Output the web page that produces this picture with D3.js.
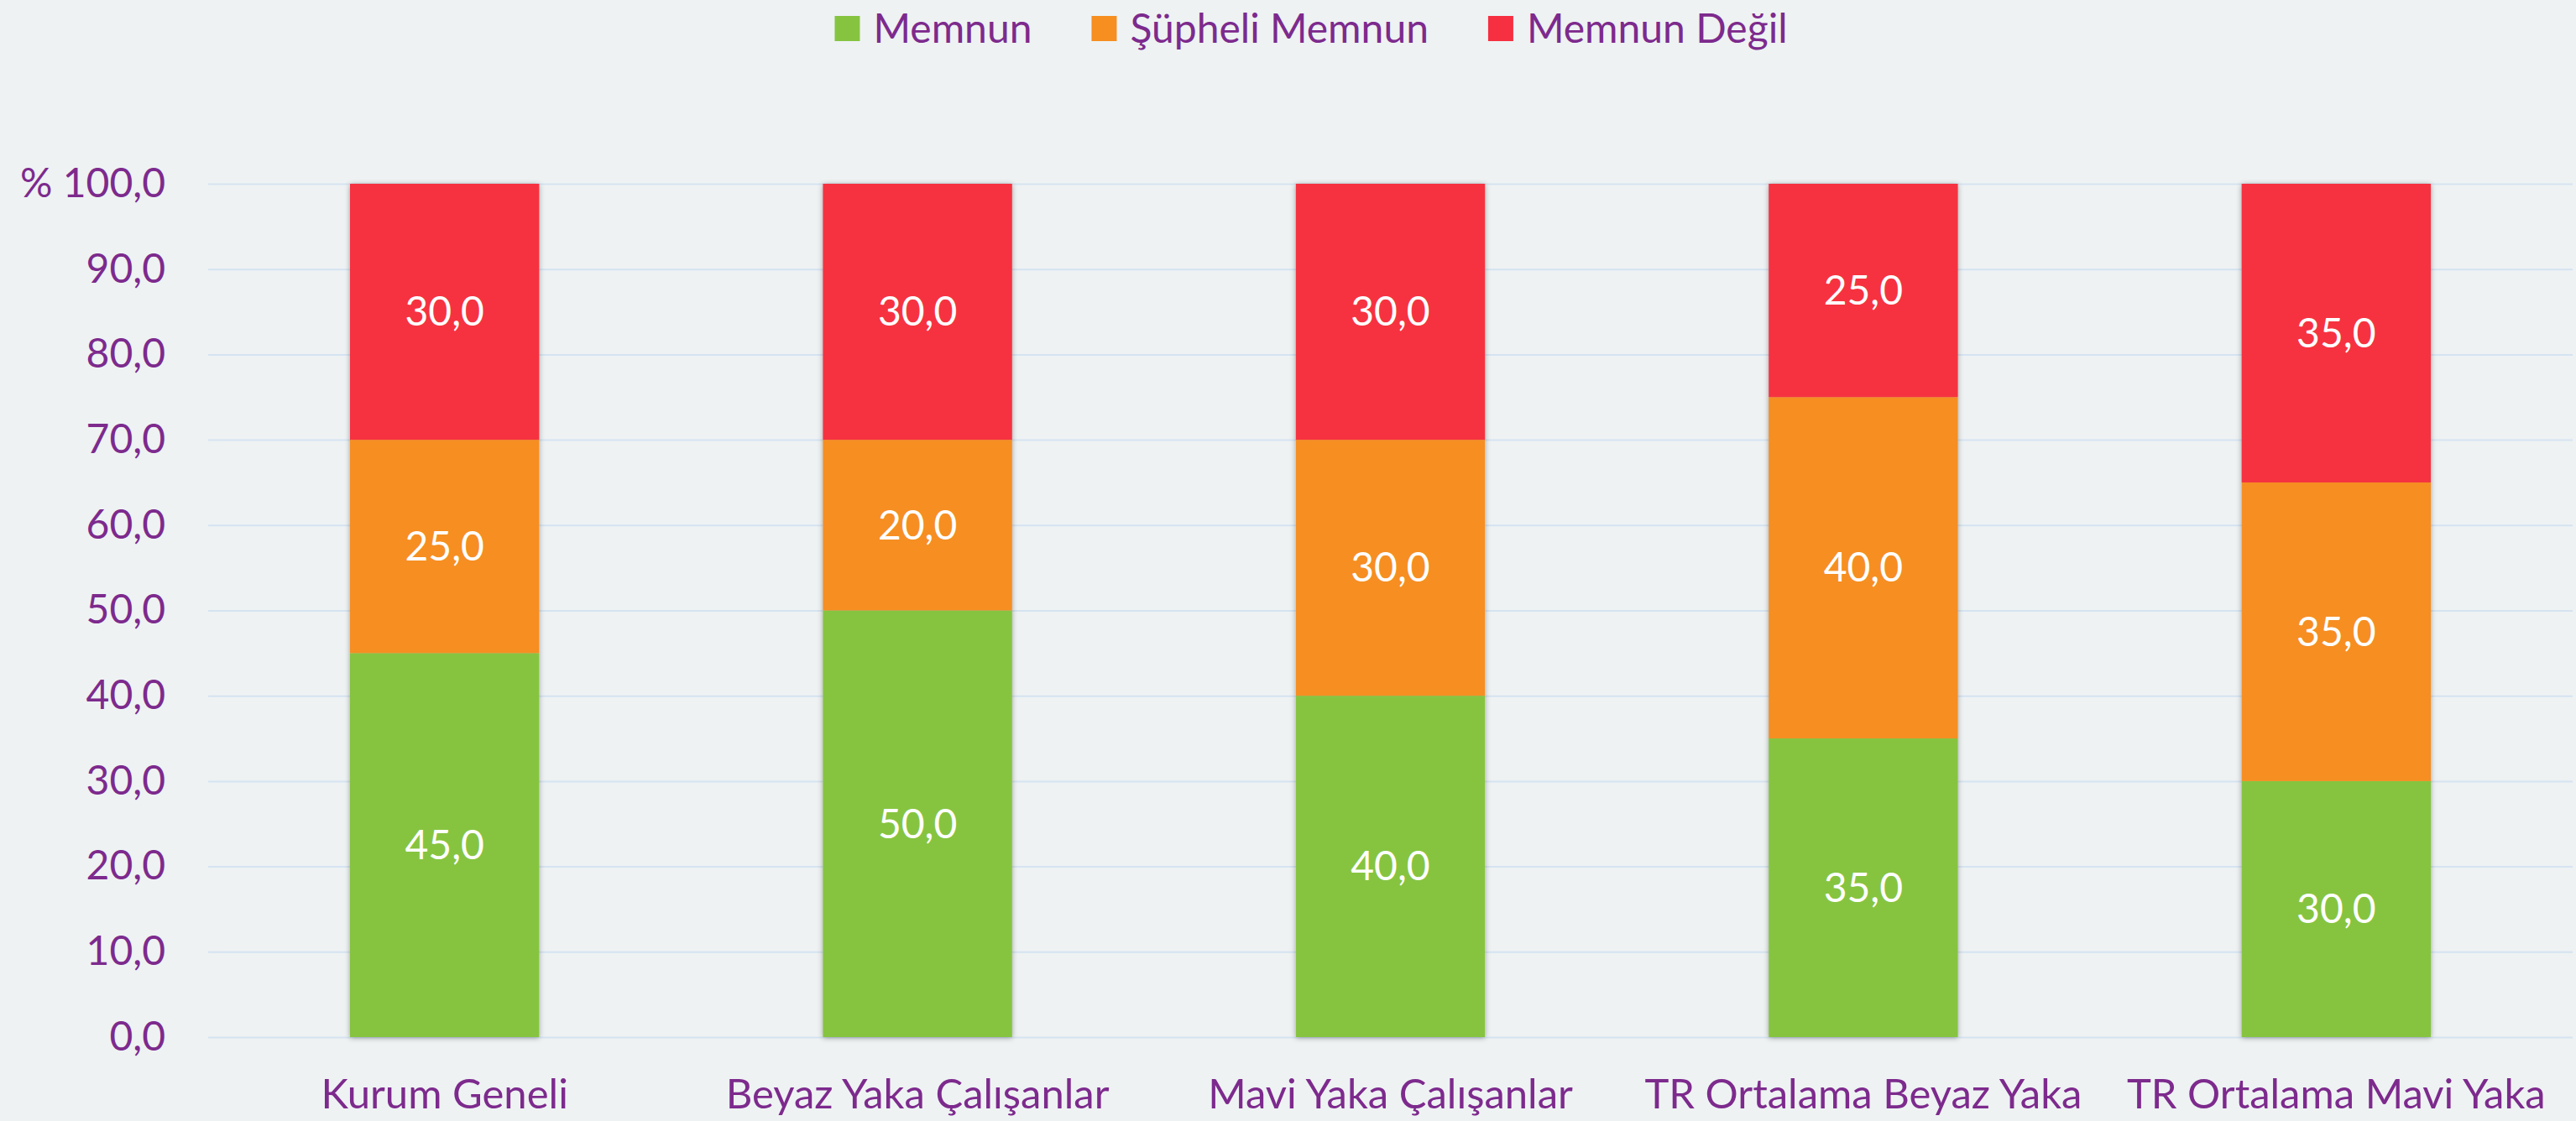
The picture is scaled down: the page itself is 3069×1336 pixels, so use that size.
<!DOCTYPE html>
<html>
<head>
<meta charset="utf-8">
<script src="https://cdn.jsdelivr.net/npm/d3@7"></script>
<style>
  body { margin: 0; background: #eef2f3; }
  text { font-family: Lato, "Open Sans", sans-serif; }
</style>
</head>
<body>
<div id="chart"></div>
<script>
// categories and series (percent)
let categories = ["Kurum Geneli", "Beyaz Yaka Çalışanlar", "Mavi Yaka Çalışanlar", "TR Ortalama Beyaz Yaka", "TR Ortalama Mavi Yaka"];
let memnun = [45, 50, 40, 35, 30];
let supheli = [25, 20, 30, 40, 35];
let memnunDegil = [30, 30, 30, 25, 35];
let seriesNames = ["Memnun", "Şüpheli Memnun", "Memnun Değil"];
let seriesColors = ["#86c440", "#f68e20", "#f63040"];
let yTicks = [0, 10, 20, 30, 40, 50, 60, 70, 80, 90, 100];

let W = 3069, H = 1336;
let margin = {top: 219, right: 4, bottom: 100, left: 248};
let width = W - margin.left - margin.right,
    height = H - margin.top - margin.bottom;

let purple = "#7d2a8d";

let svg = d3.select("#chart").append("svg")
  .attr("width", W)
  .attr("height", H)
  .style("display", "block")
  .style("background", "#eef2f3");

let defs = svg.append("defs");
defs.append("filter")
  .attr("id", "shadow")
  .attr("x", "-10%").attr("y", "-5%")
  .attr("width", "120%").attr("height", "110%")
  .append("feDropShadow")
  .attr("dx", 0).attr("dy", 1)
  .attr("stdDeviation", 3)
  .attr("flood-color", "#000")
  .attr("flood-opacity", 0.35);

let g = svg.append("g")
  .attr("transform", "translate(" + margin.left + "," + margin.top + ")");

let x = d3.scaleBand()
  .domain(categories)
  .range([0, width])
  .paddingInner(0.6)
  .paddingOuter(0.3);

let y = d3.scaleLinear()
  .domain([0, 100])
  .range([height, 0]);

// gridlines + y labels
let yAxis = g.append("g")
  .call(d3.axisLeft(y)
    .tickValues(yTicks)
    .tickSize(-width)
    .tickPadding(51)
    .tickFormat(d => (d == 100 ? "% " : "") + d.toFixed(1).replace(".", ",")));
yAxis.select(".domain").remove();
yAxis.selectAll(".tick line")
  .attr("stroke", "#d5e3f1")
  .attr("stroke-width", 2);
yAxis.selectAll(".tick text")
  .attr("fill", purple)
  .style("font-size", "48px");

// stack
let rows = categories.map((c, i) => ({cat: c, s0: memnun[i], s1: supheli[i], s2: memnunDegil[i]}));
let stack = d3.stack().keys(["s0", "s1", "s2"])(rows);

let bars = g.append("g").attr("filter", "url(#shadow)");
stack.forEach((layer, k) => {
  bars.append("g")
    .attr("fill", seriesColors[k])
    .selectAll("rect")
    .data(layer)
    .enter().append("rect")
      .attr("x", d => x(d.data.cat))
      .attr("y", d => y(d[1]))
      .attr("width", x.bandwidth())
      .attr("height", d => y(d[0]) - y(d[1]));
});

// value labels
stack.forEach(layer => {
  g.append("g")
    .selectAll("text")
    .data(layer)
    .enter().append("text")
      .attr("x", d => x(d.data.cat) + x.bandwidth() / 2)
      .attr("y", d => y((d[0] + d[1]) / 2))
      .attr("dy", "0.35em")
      .attr("text-anchor", "middle")
      .attr("fill", "#fff")
      .style("font-size", "48px")
      .text(d => (d[1] - d[0]).toFixed(1).replace(".", ","));
});

// x labels
g.append("g")
  .selectAll("text")
  .data(categories)
  .enter().append("text")
    .attr("x", d => x(d) + x.bandwidth() / 2)
    .attr("y", height + 85)
    .attr("text-anchor", "middle")
    .attr("fill", purple)
    .style("font-size", "49px")
    .text(d => d);

// legend
let legend = svg.append("g");
let lx = 0;
seriesNames.forEach((name, i) => {
  let item = legend.append("g").attr("transform", "translate(" + lx + ",0)");
  item.append("rect")
    .attr("x", 0).attr("y", 19)
    .attr("width", 30).attr("height", 30)
    .attr("fill", seriesColors[i]);
  let t = item.append("text")
    .attr("x", 46).attr("y", 51)
    .attr("fill", purple)
    .style("font-size", "48px")
    .text(name);
  lx += 46 + t.node().getComputedTextLength() + 71;
});
let legendWidth = lx - 71;
legend.attr("transform", "translate(" + (1562 - legendWidth / 2) + ",0)");
</script>
</body>
</html>
